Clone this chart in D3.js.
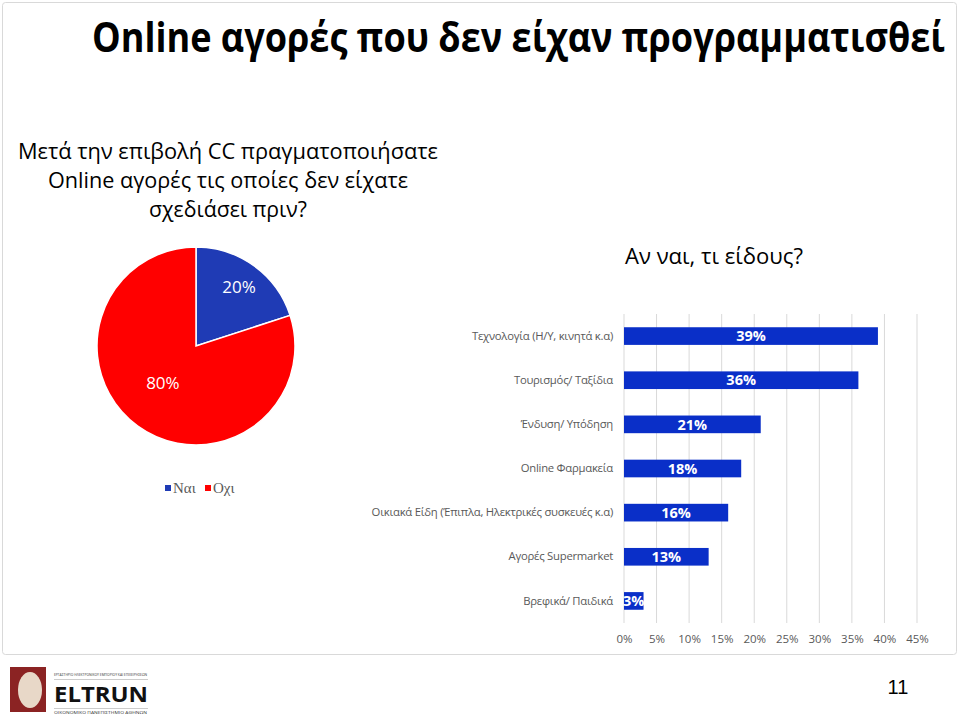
<!DOCTYPE html>
<html><head><meta charset="utf-8">
<script src="https://cdn.jsdelivr.net/npm/d3@7"></script>
<style>body{margin:0;background:#fff}svg{display:block}</style>
</head><body>
<svg id="c" width="960" height="715"></svg>
<script>
// ---- data ----
const pieLabels = ["Ναι", "Οχι"];
const pieValues = [20, 80];
const pieColors = ["#1F3BB5", "#FF0000"];

const barCategories = [
  "Τεχνολογία (Η/Υ, κινητά κ.α)",
  "Τουρισμός/ Ταξίδια",
  "Ένδυση/ Υπόδηση",
  "Online Φαρμακεία",
  "Οικιακά Είδη (Έπιπλα, Ηλεκτρικές συσκευές κ.α)",
  "Αγορές Supermarket",
  "Βρεφικά/ Παιδικά"
];
const barValues = [39, 36, 21, 18, 16, 13, 3];
const xTicks = [0, 5, 10, 15, 20, 25, 30, 35, 40, 45];

const title = "Online αγορές που δεν είχαν προγραμματισθεί";
const questionLines = ["Μετά την επιβολή CC πραγματοποιήσατε", "Online αγορές τις οποίες δεν είχατε", "σχεδιάσει πριν?"];
const barTitle = "Αν ναι, τι είδους?";
const pageNumber = "11";

// ---- drawing ----
const svg = d3.select("#c");
const sans = "'Open Sans','Noto Sans',sans-serif";

// chart frame
svg.append("rect").attr("x", 2.5).attr("y", 2.5).attr("width", 954).attr("height", 652)
  .attr("rx", 3).attr("fill", "none").attr("stroke", "#d9d9d9").attr("stroke-width", 1);

// title
svg.append("text").attr("transform", "translate(92,52) scale(1,1.14)").text(title)
  .attr("font-family", sans).attr("font-weight", 700).attr("font-size", 36)
  .attr("textLength", 853).attr("lengthAdjust", "spacingAndGlyphs").attr("fill", "#000");

// question
const qWidths = [420, 360, 158];
questionLines.forEach((t, i) => {
  svg.append("text").attr("x", 228).attr("y", 159 + i * 29).attr("text-anchor", "middle")
    .text(t).attr("font-family", sans).attr("font-size", 22).attr("font-weight", 500)
    .attr("textLength", qWidths[i]).attr("lengthAdjust", "spacingAndGlyphs").attr("fill", "#000");
});

// ---- pie ----
const cx = 196, cy = 346, r = 99;
const pie = d3.pie().sort(null).value(d => d)(pieValues);
const arc = d3.arc().innerRadius(0).outerRadius(r);
const gPie = svg.append("g").attr("transform", `translate(${cx},${cy})`);
gPie.selectAll("path").data(pie).join("path")
  .attr("d", arc).attr("fill", (d, i) => pieColors[i])
  .attr("stroke", "#fff").attr("stroke-width", 1.5);
gPie.selectAll("text").data(pie).join("text")
  .attr("transform", d => {
    const lr = d.index === 0 ? r * 0.74 : r * 0.5;
    const c = d3.arc().innerRadius(lr).outerRadius(lr).centroid(d);
    return `translate(${c[0] - (d.index === 0 ? 0 : 4)},${c[1] - (d.index === 0 ? 0 : 3)})`;
  })
  .attr("text-anchor", "middle").attr("dy", "0.35em")
  .attr("fill", "#fff").attr("font-family", sans).attr("font-size", 17).attr("font-weight", 500)
  .text(d => d.value + "%");

// legend
const legX = [165, 205];
pieLabels.forEach((l, i) => {
  svg.append("rect").attr("x", legX[i]).attr("y", 485).attr("width", 6).attr("height", 6).attr("fill", pieColors[i]);
  svg.append("text").attr("x", legX[i] + 8).attr("y", 493).text(l)
    .attr("font-family", "'Liberation Serif','DejaVu Serif',serif").attr("font-size", 15).attr("fill", "#595959");
});

// ---- bar chart ----
svg.append("text").attr("x", 625).attr("y", 264).text(barTitle)
  .attr("font-family", sans).attr("font-size", 22).attr("fill", "#000")
  .attr("textLength", 178).attr("lengthAdjust", "spacingAndGlyphs");

const x = d3.scaleLinear().domain([0, 45]).range([624, 917]);
const y = d3.scaleBand().domain(barCategories).range([314, 623]).paddingInner(0.6).paddingOuter(0.3);

// gridlines
svg.append("g").selectAll("line").data(xTicks).join("line")
  .attr("x1", d => x(d)).attr("x2", d => x(d)).attr("y1", 314).attr("y2", 623)
  .attr("stroke", "#d9d9d9").attr("stroke-width", 1);

// x axis labels
const xAxis = d3.axisBottom(x).tickValues(xTicks).tickFormat(d => d + "%").tickSize(0).tickPadding(0);
const gx = svg.append("g").attr("transform", "translate(0,635)").call(xAxis);
gx.select(".domain").remove();
gx.selectAll("text").attr("font-family", sans).attr("font-size", 11.5).attr("fill", "#595959");

// y axis labels
const yAxis = d3.axisLeft(y).tickSize(0).tickPadding(0);
const gy = svg.append("g").attr("transform", "translate(613,0)").call(yAxis);
gy.select(".domain").remove();
gy.selectAll("text").attr("font-family", sans).attr("font-size", 11.3).attr("fill", "#595959")
  .attr("letter-spacing", -0.25);

// bars
const data = barCategories.map((c, i) => ({ c, v: barValues[i] }));
svg.append("g").selectAll("rect").data(data).join("rect")
  .attr("x", x(0)).attr("y", d => y(d.c)).attr("width", d => x(d.v) - x(0)).attr("height", y.bandwidth())
  .attr("fill", "#0A2FC8");
svg.append("g").selectAll("text").data(data).join("text")
  .attr("x", d => (x(0) + x(d.v)) / 2).attr("y", d => y(d.c) + y.bandwidth() / 2)
  .attr("dy", "0.36em").attr("text-anchor", "middle")
  .attr("font-family", sans).attr("font-weight", 700).attr("font-size", 14.5).attr("fill", "#fff")
  .text(d => d.v + "%");

// ---- footer ----
const logo = svg.append("g");
logo.append("rect").attr("x", 10).attr("y", 667).attr("width", 36).attr("height", 45).attr("fill", "#8B2323");
logo.append("ellipse").attr("cx", 30).attr("cy", 690).attr("rx", 12).attr("ry", 18).attr("fill", "#E8D8C8");
logo.append("text").attr("x", 54).attr("y", 676).text("ΕΡΓΑΣΤΗΡΙΟ ΗΛΕΚΤΡΟΝΙΚΟΥ ΕΜΠΟΡΙΟΥ ΚΑΙ ΕΠΙΧΕΙΡΗΣΕΩΝ")
  .attr("font-family", sans).attr("font-size", 4).attr("textLength", 93).attr("lengthAdjust", "spacingAndGlyphs").attr("fill", "#333");
logo.append("line").attr("x1", 54).attr("x2", 148).attr("y1", 679.5).attr("y2", 679.5).attr("stroke", "#999").attr("stroke-width", 0.5);
logo.append("text").attr("x", 54).attr("y", 702).text("ELTRUN")
  .attr("font-family", sans).attr("font-weight", 700).attr("font-size", 22)
  .attr("textLength", 94).attr("lengthAdjust", "spacingAndGlyphs").attr("fill", "#111");
logo.append("line").attr("x1", 54).attr("x2", 148).attr("y1", 708.5).attr("y2", 708.5).attr("stroke", "#999").attr("stroke-width", 0.5);
logo.append("text").attr("x", 54).attr("y", 714).text("ΟΙΚΟΝΟΜΙΚΟ ΠΑΝΕΠΙΣΤΗΜΙΟ ΑΘΗΝΩΝ")
  .attr("font-family", sans).attr("font-size", 4).attr("textLength", 93).attr("lengthAdjust", "spacingAndGlyphs").attr("fill", "#333");

svg.append("text").attr("x", 898).attr("y", 694).attr("text-anchor", "middle").text(pageNumber)
  .attr("font-family", "'Liberation Sans Narrow','Liberation Sans',Arial,sans-serif").attr("font-size", 20).attr("fill", "#000");
</script>
</body></html>
